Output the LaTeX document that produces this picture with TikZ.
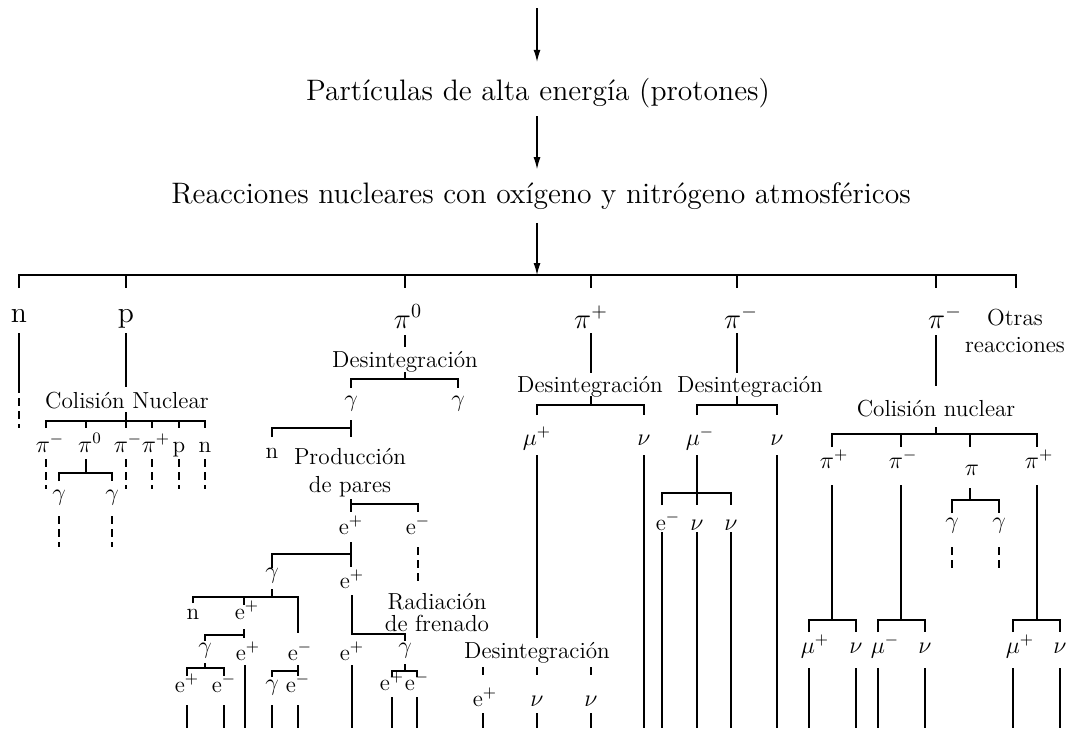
\documentclass[tikz,border=0pt]{standalone}
\usepackage{fontspec}
\usetikzlibrary{arrows.meta}
\begin{document}
\begin{tikzpicture}[x=0.5pt,y=-0.5pt,
  tree/.style={line width=1.1pt},
  tdash/.style={line width=1.1pt,dash pattern=on 4pt off 2.5pt},
  flow/.style={line width=.55pt,-{Latex[length=6pt,width=3.5pt]}},
  big/.style={font=\fontsize{14.8}{18}\selectfont,inner sep=0pt},
  lbl/.style={font=\fontsize{11.6}{14}\selectfont,inner sep=0pt,anchor=base},
  ]
\useasboundingbox (0,0) rectangle (1068,728);

% source and the two reactions
\coordinate (src) at (537,8);
\coordinate (hub) at (537,275);
\node[big] (part) at (538,93) {Partículas de alta energía (protones)};
\node[big] (reac) at (541,196) {Reacciones nucleares con oxígeno y nitrógeno atmosféricos};
\draw[flow,shorten >=8pt] (src) -- (part.north -| src);
\draw[flow,shorten <=4pt,shorten >=6.5pt] (part.south -| src) -- (reac.north -| src);
\draw[flow,shorten <=6.5pt] (reac.south -| src) -- (hub);

% main bar
\draw[tree] (19,288) -- (19,275) -- (1016,275) -- (1016,288);
\foreach \x in {126,405,591,737,936} \draw[tree] (\x,275) -- (\x,288);

\node[big,anchor=base] (n) at (19,322) {n};
\node[big,anchor=base] (p) at (126,322) {p};
\node[big,anchor=base] (pio) at (408,328) {$\pi^0$};
\node[big,anchor=base] (pip) at (591,328) {$\pi^+$};
\node[big,anchor=base] (pim) at (741,328) {$\pi^-$};
\node[big,anchor=base] (pimb) at (945,328) {$\pi^-$};
\node[font=\fontsize{11.6}{13.5}\selectfont,inner sep=0pt,align=center] (otras) at (1015,331) {Otras\\reacciones};

% n and p
\draw[tree] (19,333) -- (19,385);
\draw[tdash] (19,385) -- (19,428);
\draw[tree] (126,333) -- (126,387);
\node[lbl] (colp) at (127,408) {Colisión Nuclear};
\draw[tree] (126,412) -- (126,421);
\draw[tree] (46,428) -- (46,421) -- (205,421) -- (205,428);
\foreach \x in {86,126,152,179} \draw[tree] (\x,421) -- (\x,428);
\node[lbl] (cpa) at (50,452) {$\pi^-$};
\node[lbl] (cpb) at (90,452) {$\pi^0$};
\node[lbl] (cpc) at (128,452) {$\pi^-$};
\node[lbl] (cpd) at (156,452) {$\pi^+$};
\node[lbl] (cpe) at (179,452) {p};
\node[lbl] (cpf) at (205,452) {n};
\foreach \x in {46,126,152,179,205} \draw[tdash] (\x,459) -- (\x,489);
\draw[tree] (86,459) -- (86,473);
\draw[tree] (59,481) -- (59,473) -- (112,473) -- (112,481);
\node[lbl] (cga) at (59,500) {$\gamma$};
\node[lbl] (cgb) at (112,500) {$\gamma$};
\foreach \x in {59,112} \draw[tdash] (\x,516) -- (\x,547);

% pi0
\draw[tree] (405,335) -- (405,347);
\node[lbl] (desa) at (405,367) {Desintegración};
\draw[tree] (405,372) -- (405,379);
\draw[tree] (351,388) -- (351,379) -- (458,379) -- (458,388);
\node[lbl] (ga) at (351,406) {$\gamma$};
\node[lbl] (gb) at (458,406) {$\gamma$};
\draw[tree] (351,420) -- (351,437);
\draw[tree] (272,437) -- (272,428) -- (351,428);
\node[lbl] (na) at (272,458) {n};
\node[font=\fontsize{11.6}{14}\selectfont,inner sep=0pt,align=center] (prod) at (350,473) {Producción\\de pares};
\draw[tree] (351,499) -- (351,512);
\draw[tree] (351,504) -- (418,504) -- (418,512);
\node[lbl] (epa) at (351,534) {e$^+$};
\node[lbl] (ema) at (418,534) {e$^-$};
\draw[tdash] (418,547) -- (418,583);
\draw[tree] (351,542) -- (351,567);
\draw[tree] (272,568) -- (272,554) -- (351,554);
\node[lbl] (gc) at (272,578) {$\gamma$};
\node[lbl] (epb) at (352,588) {e$^+$};
\draw[tree] (272,589) -- (272,597);
\draw[tree] (193,603) -- (193,597) -- (298,597) -- (298,633);
\draw[tree] (244,597) -- (244,605);
\node[lbl] (nb) at (193,619) {n};
\node[lbl] (epc) at (247,619) {e$^+$};
\draw[tree] (244,629) -- (244,638);
\draw[tree] (205,641) -- (205,635) -- (244,635);
\draw[tree] (352,595) -- (352,634) -- (405,634) -- (405,641);
\node[font=\fontsize{11.6}{11}\selectfont,inner sep=0pt,align=center] (rad) at (437,613) {Radiación\\de frenado};
\node[lbl] (gd) at (205,653) {$\gamma$};
\node[lbl] (epd) at (248,660) {e$^+$};
\node[lbl] (emb) at (300,660) {e$^-$};
\node[lbl] (epe) at (352,660) {e$^+$};
\node[lbl] (ge) at (405,653) {$\gamma$};
\draw[tree] (205,663) -- (205,668);
\draw[tree] (187,676) -- (187,668) -- (224,668) -- (224,676);
\draw[tree] (245,665) -- (245,728);
\draw[tree] (298,665) -- (298,676);
\draw[tree] (272,677) -- (272,671) -- (298,671);
\draw[tree] (352,665) -- (352,728);
\draw[tree] (405,664) -- (405,671);
\draw[tree] (392,677) -- (392,671) -- (417,671) -- (417,677);
\node[lbl] (epf) at (187,692) {e$^+$};
\node[lbl] (emc) at (224,692) {e$^-$};
\node[lbl] (gf) at (272,690) {$\gamma$};
\node[lbl] (emd) at (298,692) {e$^-$};
\node[lbl] (epg) at (392,690) {e$^+$};
\node[lbl] (eme) at (417,690) {e$^-$};
\foreach \x in {187,224,272,298} \draw[tree] (\x,705) -- (\x,728);
\foreach \x in {392,417} \draw[tree] (\x,697) -- (\x,728);

% pi+
\draw[tree] (591,333) -- (591,373);
\node[lbl] (desb) at (590,392) {Desintegración};
\draw[tree] (591,396) -- (591,405);
\draw[tree] (537,415) -- (537,405) -- (644,405) -- (644,415);
\node[lbl] (mupa) at (537,445) {$\mu^+$};
\node[lbl] (nua) at (644,445) {$\nu$};
\draw[tree] (537,455) -- (537,638);
\draw[tree] (644,455) -- (644,728);
\node[lbl] (desc) at (537,658) {Desintegración};
\foreach \x in {483,537,591} \draw[tree] (\x,667) -- (\x,675);
\node[lbl] (eph) at (485,706) {e$^+$};
\node[lbl] (nub) at (537,706) {$\nu$};
\node[lbl] (nuc) at (591,706) {$\nu$};
\foreach \x in {483,537,591} \draw[tree] (\x,713) -- (\x,728);

% pi-
\draw[tree] (737,333) -- (737,373);
\node[lbl] (desd) at (750,392) {Desintegración};
\draw[tree] (737,396) -- (737,405);
\draw[tree] (697,415) -- (697,405) -- (777,405) -- (777,415);
\node[lbl] (muma) at (700,445) {$\mu^-$};
\node[lbl] (nud) at (777,445) {$\nu$};
\draw[tree] (697,455) -- (697,505);
\draw[tree] (662,505) -- (662,493) -- (731,493) -- (731,505);
\node[lbl] (emf) at (668,530) {e$^-$};
\node[lbl] (nue) at (697,530) {$\nu$};
\node[lbl] (nuf) at (731,530) {$\nu$};
\foreach \x in {662,697,731} \draw[tree] (\x,532) -- (\x,728);
\draw[tree] (777,455) -- (777,728);

% second pi-
\draw[tree] (936,335) -- (936,386);
\node[lbl] (colq) at (936,416) {Colisión nuclear};
\draw[tree] (936,427) -- (936,434);
\draw[tree] (832,447) -- (832,434) -- (1037,434) -- (1037,447);
\foreach \x in {901,970} \draw[tree] (\x,434) -- (\x,447);
\node[lbl] (cqa) at (834,468) {$\pi^+$};
\node[lbl] (cqb) at (903,468) {$\pi^-$};
\node[lbl] (cqc) at (972,475) {$\pi$};
\node[lbl] (cqd) at (1039,468) {$\pi^+$};
\foreach \x in {832,901,1037} \draw[tree] (\x,485) -- (\x,620);
\draw[tree] (970,488) -- (970,500);
\draw[tree] (952,513) -- (952,500) -- (999,500) -- (999,513);
\node[lbl] (gg) at (952,528) {$\gamma$};
\node[lbl] (gh) at (999,528) {$\gamma$};
\foreach \x in {952,999} \draw[tdash] (\x,547) -- (\x,570);
\draw[tree] (809,632) -- (809,620) -- (856,620) -- (856,632);
\draw[tree] (878,632) -- (878,620) -- (925,620) -- (925,632);
\draw[tree] (1013,632) -- (1013,620) -- (1060,620) -- (1060,632);
\node[lbl] (mupb) at (815,653) {$\mu^+$};
\node[lbl] (nug) at (856,653) {$\nu$};
\node[lbl] (mumb) at (885,653) {$\mu^-$};
\node[lbl] (nuh) at (925,653) {$\nu$};
\node[lbl] (mupc) at (1020,653) {$\mu^+$};
\node[lbl] (nui) at (1060,653) {$\nu$};
\foreach \x in {809,856,878,925,1013,1060} \draw[tree] (\x,668) -- (\x,728);
\end{tikzpicture}
\end{document}
